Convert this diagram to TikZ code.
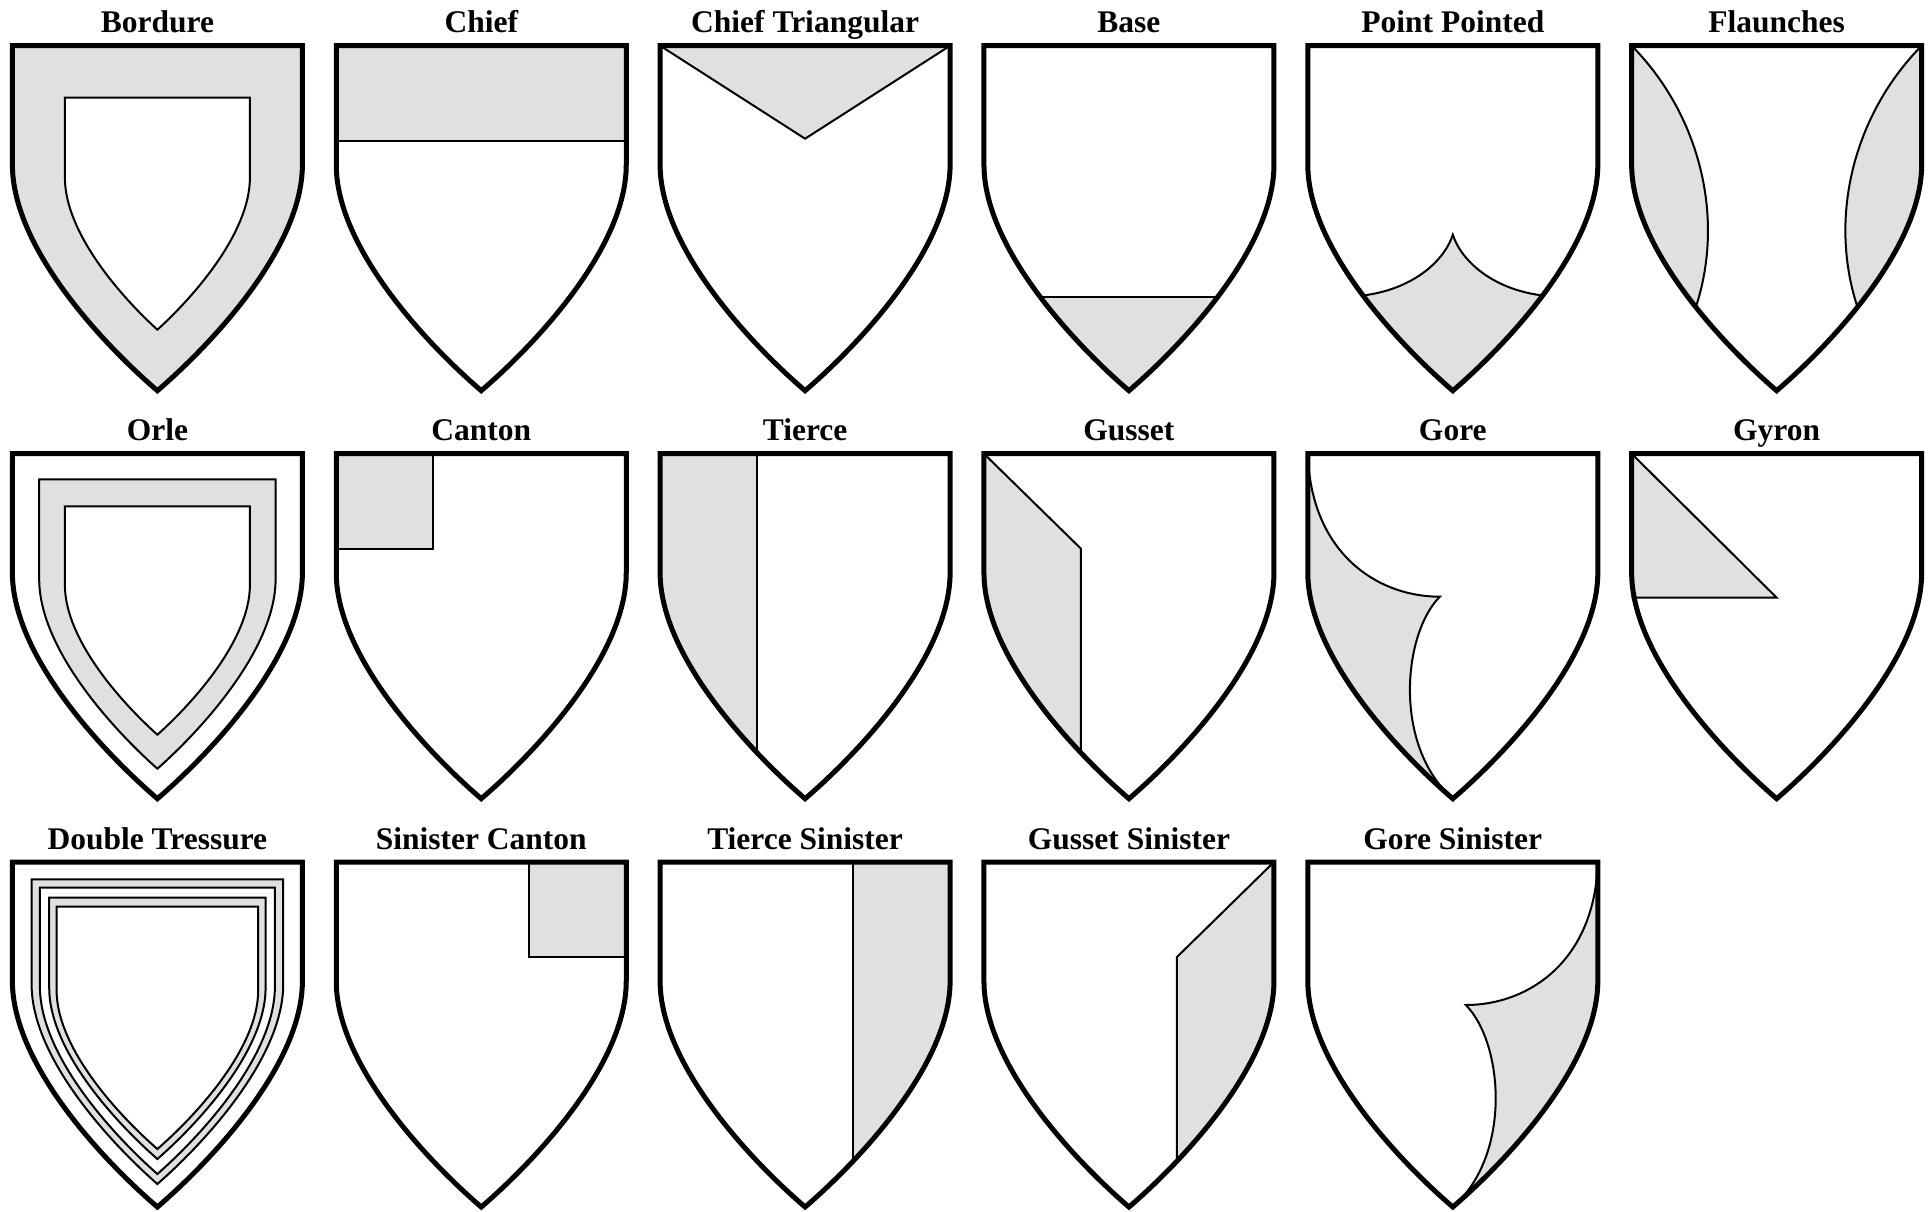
\documentclass[tikz,border=0pt]{standalone}
\usepackage{fontspec}
\setmainfont{Liberation Serif}
\definecolor{tint}{HTML}{E0E0E0}
% shield outline in the box (L,T)-(R,B), y pointing down
\newcommand\shp[4]{(#1,#2) -- (#3,#2) -- (#3,{#2+0.345*(#4-#2)}) .. controls (#3,{#2+0.585*(#4-#2)}) and ({#3-0.31*(#3-#1)},{#2+0.8626*(#4-#2)}) .. ({(#1+#3)/2},#4) .. controls ({#1+0.31*(#3-#1)},{#2+0.8626*(#4-#2)}) and (#1,{#2+0.585*(#4-#2)}) .. (#1,{#2+0.345*(#4-#2)}) -- cycle}
\newcommand\outl{\shp{0}{0}{290}{345}}
\newcommand\gorefill{(0,0) .. controls (3,100) and (70,143) .. (132,143) .. controls (95,180) and (85,292) .. (145,345) .. controls (89.9,297.6) and (0,201.8) .. (0,119) -- cycle}
\newcommand\goreline{(0,0) .. controls (3,100) and (70,143) .. (132,143) .. controls (95,180) and (85,292) .. (145,345)}
\tikzset{
  rim/.style={line width=5pt, line join=miter},
  hair/.style={line width=2pt},
  lab/.style={font=\fontsize{31.5}{36}\selectfont\bfseries, anchor=base, inner sep=0pt}
}
\begin{document}
\begin{tikzpicture}[x=1pt,y=-1pt]
\useasboundingbox (0,0) rectangle (1932,1212);
\fill[white] (0,0) rectangle (1932,1212);

% ---------------- Row 1 ----------------
\node[lab] (t-bordure) at (157.4,32.7) {Bordure};
\begin{scope}[shift={(12.4,45.7)}]
  \fill[tint] \outl;
  \draw[hair,fill=white] \shp{52.5}{52}{237.5}{284};
  \draw[rim] \outl;
\end{scope}

\node[lab] (t-chief) at (481.25,32.7) {Chief};
\begin{scope}[shift={(336.25,45.7)}]
  \begin{scope}
    \clip \outl;
    \fill[tint] (-10,-10) rectangle (300,95);
    \draw[hair] (-10,95) -- (300,95);
  \end{scope}
  \draw[rim] \outl;
\end{scope}

\node[lab] (t-chieftri) at (805.1,32.7) {Chief Triangular};
\begin{scope}[shift={(660.1,45.7)}]
  \filldraw[hair,fill=tint] (0,0) -- (145,93) -- (290,0);
  \draw[rim] \outl;
\end{scope}

\node[lab] (t-base) at (1128.95,32.7) {Base};
\begin{scope}[shift={(983.95,45.7)}]
  \begin{scope}
    \clip \outl;
    \fill[tint] (-10,251) rectangle (300,360);
    \draw[hair] (-10,251) -- (300,251);
  \end{scope}
  \draw[rim] \outl;
\end{scope}

\node[lab] (t-pointpointed) at (1452.8,32.7) {Point Pointed};
\begin{scope}[shift={(1307.8,45.7)}]
  \begin{scope}
    \clip \outl;
    \fill[tint] (-10,251) -- (40,251) .. controls (100,249) and (136,217) .. (145,189) .. controls (154,217) and (190,249) .. (250,251) -- (300,251) -- (300,360) -- (-10,360) -- cycle;
    \draw[hair] (40,251) .. controls (100,249) and (136,217) .. (145,189) .. controls (154,217) and (190,249) .. (250,251);
  \end{scope}
  \draw[rim] \outl;
\end{scope}

\node[lab] (t-flaunches) at (1776.65,32.7) {Flaunches};
\begin{scope}[shift={(1631.65,45.7)}]
  \begin{scope}
    \clip \outl;
    \fill[tint] (0,0) .. controls (74,75) and (98,190) .. (55,285) -- (-10,285) -- (-10,0) -- cycle;
    \fill[tint] (290,0) .. controls (216,75) and (192,190) .. (235,285) -- (300,285) -- (300,0) -- cycle;
    \draw[hair] (0,0) .. controls (74,75) and (98,190) .. (55,285);
    \draw[hair] (290,0) .. controls (216,75) and (192,190) .. (235,285);
  \end{scope}
  \draw[rim] \outl;
\end{scope}

% ---------------- Row 2 ----------------
\node[lab] (t-orle) at (157.4,440.7) {Orle};
\begin{scope}[shift={(12.4,453.7)}]
  \draw[hair,fill=tint] \shp{26.8}{25.6}{263.2}{315};
  \draw[hair,fill=white] \shp{52.5}{52.6}{237.5}{281};
  \draw[rim] \outl;
\end{scope}

\node[lab] (t-canton) at (481.25,440.7) {Canton};
\begin{scope}[shift={(336.25,453.7)}]
  \filldraw[hair,fill=tint] (0,0) -- (97,0) -- (97,95) -- (0,95) -- cycle;
  \draw[rim] \outl;
\end{scope}

\node[lab] (t-tierce) at (805.1,440.7) {Tierce};
\begin{scope}[shift={(660.1,453.7)}]
  \begin{scope}
    \clip \outl;
    \fill[tint] (-10,-10) rectangle (97,360);
    \draw[hair] (97,-10) -- (97,360);
  \end{scope}
  \draw[rim] \outl;
\end{scope}

\node[lab] (t-gusset) at (1128.95,440.7) {Gusset};
\begin{scope}[shift={(983.95,453.7)}]
  \begin{scope}
    \clip \outl;
    \fill[tint] (0,0) -- (97,95) -- (97,400) -- (-10,400) -- (-10,0) -- cycle;
    \draw[hair] (0,0) -- (97,95) -- (97,400);
  \end{scope}
  \draw[rim] \outl;
\end{scope}

\node[lab] (t-gore) at (1452.8,440.7) {Gore};
\begin{scope}[shift={(1307.8,453.7)}]
  \fill[tint] \gorefill;
  \draw[hair] \goreline;
  \draw[rim] \outl;
\end{scope}

\node[lab] (t-gyron) at (1776.65,440.7) {Gyron};
\begin{scope}[shift={(1631.65,453.7)}]
  \filldraw[hair,fill=tint] (0,0) -- (145,144) -- (0,144);
  \draw[rim] \outl;
\end{scope}

% ---------------- Row 3 ----------------
\node[lab] (t-tressure) at (157.4,849) {Double Tressure};
\begin{scope}[shift={(12.4,862)}]
  \draw[hair,fill=tint] \shp{19.2}{17.3}{270.8}{322};
  \draw[hair,fill=white] \shp{27.5}{25.7}{262.5}{312};
  \draw[hair,fill=tint] \shp{36.8}{35.7}{253.2}{297};
  \draw[hair,fill=white] \shp{44.2}{44.7}{245.8}{287};
  \draw[rim] \outl;
\end{scope}

\node[lab] (t-sincanton) at (481.25,849) {Sinister Canton};
\begin{scope}[shift={(626.25,862)},xscale=-1]
  \filldraw[hair,fill=tint] (0,0) -- (97,0) -- (97,95) -- (0,95) -- cycle;
  \draw[rim] \outl;
\end{scope}

\node[lab] (t-tiercesin) at (805.1,849) {Tierce Sinister};
\begin{scope}[shift={(950.1,862)},xscale=-1]
  \begin{scope}
    \clip \outl;
    \fill[tint] (-10,-10) rectangle (97,360);
    \draw[hair] (97,-10) -- (97,360);
  \end{scope}
  \draw[rim] \outl;
\end{scope}

\node[lab] (t-gussetsin) at (1128.95,849) {Gusset Sinister};
\begin{scope}[shift={(1273.95,862)},xscale=-1]
  \begin{scope}
    \clip \outl;
    \fill[tint] (0,0) -- (97,95) -- (97,400) -- (-10,400) -- (-10,0) -- cycle;
    \draw[hair] (0,0) -- (97,95) -- (97,400);
  \end{scope}
  \draw[rim] \outl;
\end{scope}

\node[lab] (t-goresin) at (1452.8,849) {Gore Sinister};
\begin{scope}[shift={(1597.8,862)},xscale=-1]
  \fill[tint] \gorefill;
  \draw[hair] \goreline;
  \draw[rim] \outl;
\end{scope}

\end{tikzpicture}
\end{document}
